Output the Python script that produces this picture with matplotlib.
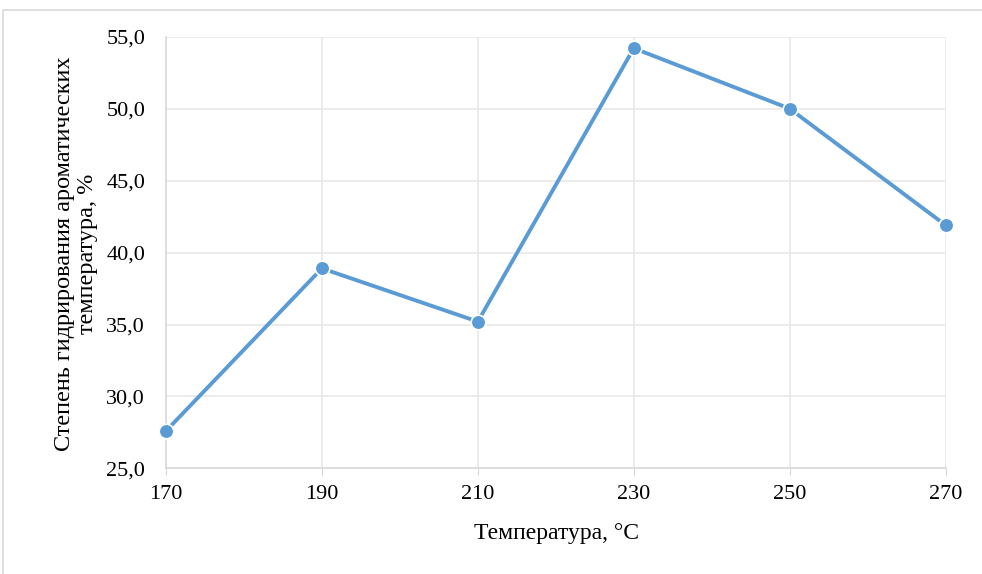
import matplotlib.pyplot as plt
from matplotlib.patches import Rectangle
from matplotlib.ticker import FuncFormatter

temperature = [170, 190, 210, 230, 250, 270]
degree = [27.6, 38.9, 35.2, 54.2, 50.0, 41.9]
y_ticks = [25, 30, 35, 40, 45, 50, 55]

plt.rcParams['font.family'] = ['Liberation Serif', 'DejaVu Serif']

fig = plt.figure(figsize=(9.82, 5.74), dpi=100)
ax = fig.add_axes([0.169, 0.184, 0.794, 0.752])

# outer chart frame
fig.patches.append(Rectangle((3 / 982, -0.05), 1.1, 1 - 10 / 574 + 0.05,
                             transform=fig.transFigure, fill=False,
                             edgecolor="#d9d9d9", linewidth=1.2))

ax.plot(temperature, degree, color="#5b9bd5", linewidth=2.8, marker="o",
        markersize=10.5, markerfacecolor="#5b9bd5", markeredgecolor="white",
        markeredgewidth=1.2, clip_on=False, zorder=3)

ax.set_xlim(170, 270)
ax.set_ylim(25, 55)
ax.set_xticks(temperature)
ax.set_yticks(y_ticks)
ax.yaxis.set_major_formatter(FuncFormatter(lambda v, p: f"{v:.1f}".replace(".", ",")))

ax.grid(True, color="#e9e9e9", linewidth=1.2)
ax.set_axisbelow(True)
for side in ["top", "right"]:
    ax.spines[side].set_visible(False)
for side in ["left", "bottom"]:
    ax.spines[side].set_color("#d9d9d9")
    ax.spines[side].set_linewidth(1.2)

ax.tick_params(axis="y", length=0, pad=15, labelsize=16)
ax.tick_params(axis="x", length=5, color="#d9d9d9", pad=7, labelsize=16)

fig.text(557 / 982, 1 - 534 / 574, "Температура, °C", fontsize=17,
         ha="center", va="center")
fig.text(76 / 982, 1 - 254 / 574, "Степень гидрирования ароматических\nтемпература, %",
         fontsize=17.5, rotation=90, ha="center", va="center",
         multialignment="center", linespacing=1.1)

plt.savefig("out.png", dpi=100)
plt.close()
